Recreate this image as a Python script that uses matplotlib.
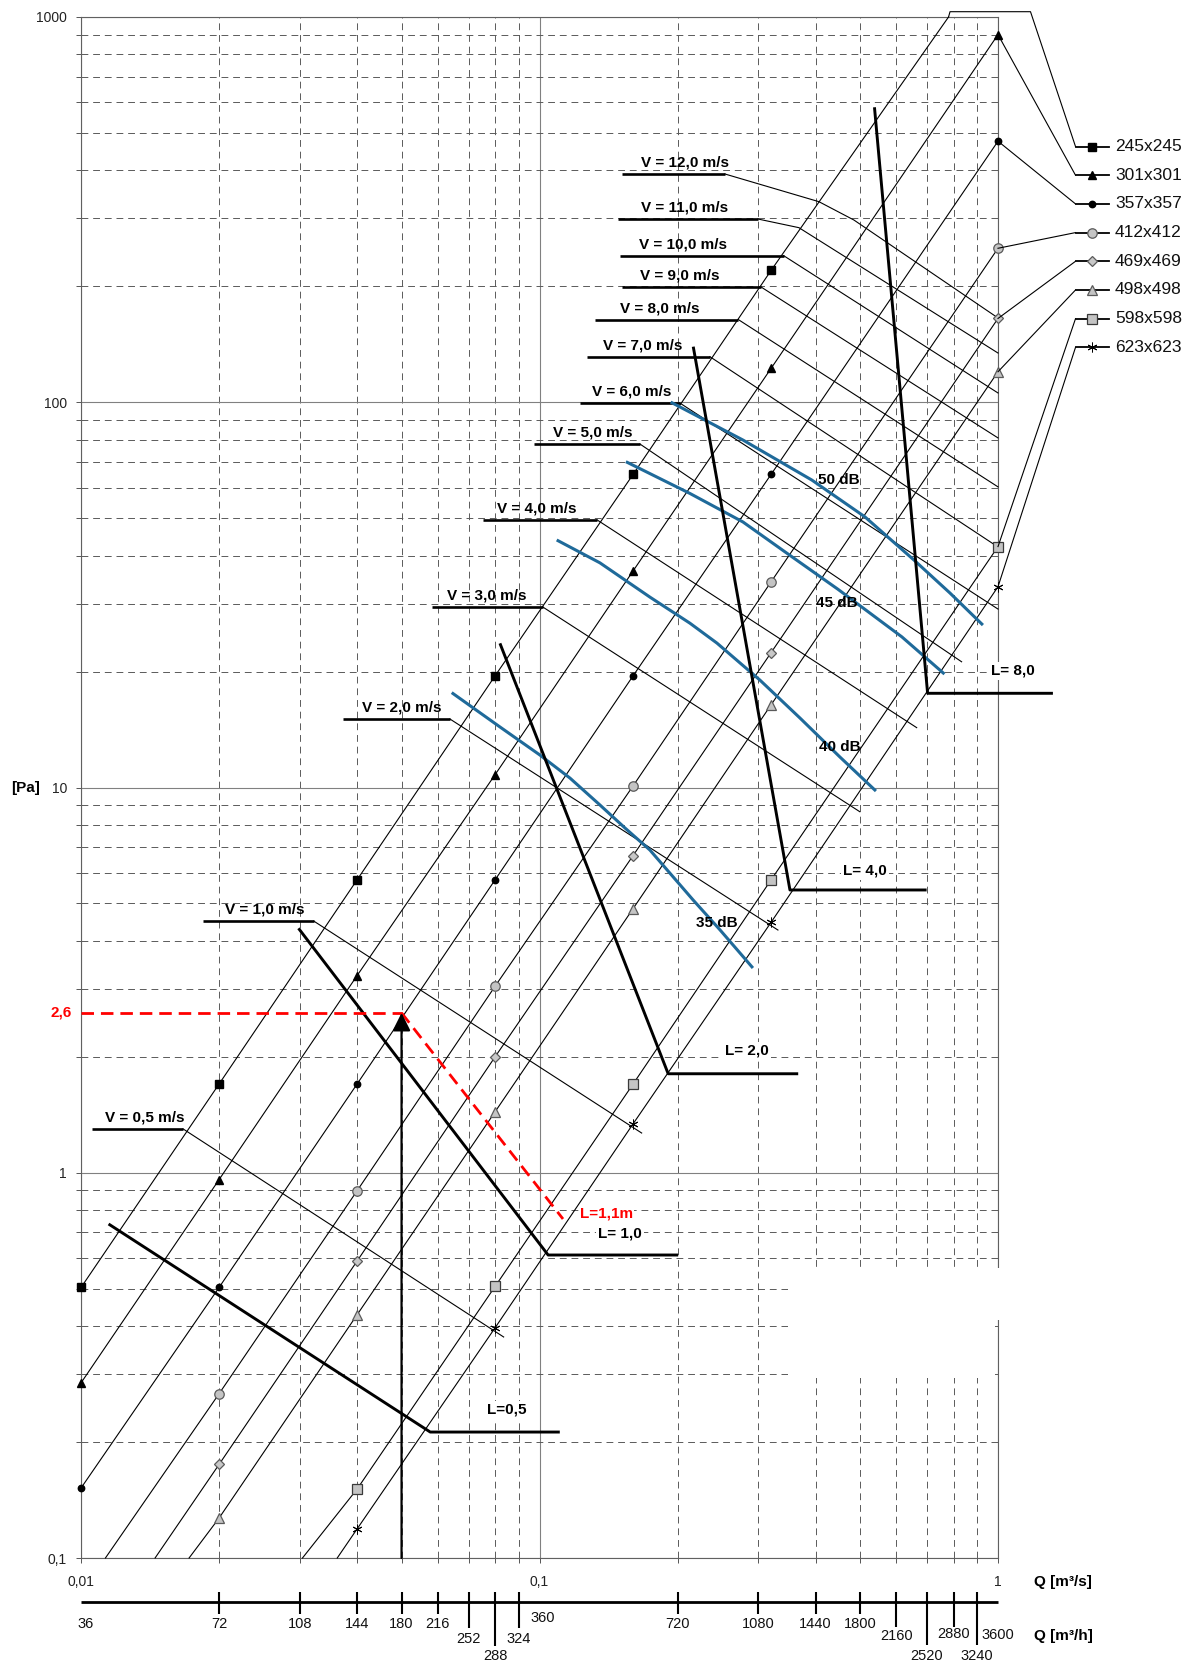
import numpy as np
import matplotlib
matplotlib.use("Agg")
import matplotlib.pyplot as plt
from matplotlib import font_manager
from matplotlib.font_manager import FontProperties
from matplotlib.patches import Rectangle
from matplotlib.transforms import blended_transform_factory, offset_copy
from matplotlib.ticker import FixedLocator, FixedFormatter, LogLocator, NullFormatter

plt.rcParams['font.family'] = ['Liberation Sans', 'DejaVu Sans']


def has_font(name):
    try:
        font_manager.findfont(FontProperties(family=name), fallback_to_default=False)
        return True
    except Exception:
        return False


NARROW_OK = has_font('Liberation Sans Narrow')
NARROW = ['Liberation Sans Narrow', 'Liberation Sans'] if NARROW_OK else ['Liberation Sans', 'DejaVu Sans']

# ---------------- data ----------------
# duct sizes and their pressure-loss lines (flow Q in m3/s, loss in Pa)
duct_sizes = ["245x245", "301x301", "357x357", "412x412",
              "469x469", "498x498", "598x598", "623x623"]
duct_q = [
    [0.01, 0.02, 0.04, 0.08, 0.16, 0.32, 0.78],
    [0.01, 0.02, 0.04, 0.08, 0.16, 0.32, 1.0],
    [0.01, 0.02, 0.04, 0.08, 0.16, 0.32, 1.0],
    [0.0113, 0.02, 0.04, 0.08, 0.16, 0.32, 1.0],
    [0.0145, 0.02, 0.04, 0.08, 0.16, 0.32, 1.0],
    [0.0172, 0.02, 0.04, 0.08, 0.16, 0.32, 1.0],
    [0.0304, 0.04, 0.08, 0.16, 0.32, 1.0],
    [0.0362, 0.04, 0.08, 0.16, 0.32, 1.0],
]
duct_p = [
    [0.504, 1.70, 5.76, 19.5, 65.0, 220.0, 1000.0],
    [0.285, 0.96, 3.25, 10.8, 36.5, 122.5, 900.0],
    [0.152, 0.504, 1.70, 5.76, 19.5, 65.0, 476.0],
    [0.1, 0.267, 0.898, 3.05, 10.1, 34.2, 251.0],
    [0.1, 0.175, 0.59, 2.0, 6.66, 22.4, 165.0],
    [0.1, 0.127, 0.428, 1.44, 4.85, 16.4, 120.0],
    [0.1, 0.151, 0.507, 1.70, 5.76, 42.2],
    [0.1, 0.119, 0.396, 1.34, 4.47, 33.2],
]
# index range of the vertices that carry a marker
duct_marked = [(0, 6), (0, 7), (0, 7), (1, 7), (1, 7), (1, 7), (1, 6), (1, 6)]

# constant air velocity lines: first segment is the label underline
vel_labels = ["V = 0,5 m/s", "V = 1,0 m/s", "V = 2,0 m/s", "V = 3,0 m/s",
              "V = 4,0 m/s", "V = 5,0 m/s", "V = 6,0 m/s", "V = 7,0 m/s",
              "V = 8,0 m/s", "V = 9,0 m/s", "V = 10,0 m/s", "V = 11,0 m/s",
              "V = 12,0 m/s"]
vel_q = [
    [0.01056, 0.01668, 0.0835],
    [0.01843, 0.03218, 0.1670],
    [0.03726, 0.06375, 0.3311],
    [0.05816, 0.1017, 0.4997],
    [0.07524, 0.1335, 0.6647],
    [0.0972, 0.1656, 0.8329],
    [0.1225, 0.2024, 1.0],
    [0.1267, 0.2353, 1.0],
    [0.1321, 0.2716, 1.0],
    [0.1511, 0.3041, 1.0],
    [0.1497, 0.3407, 1.0],
    [0.1483, 0.2994, 0.3679, 1.0],
    [0.1511, 0.2537, 0.4068, 0.4849, 1.0],
]
vel_p = [
    [1.30, 1.30, 0.3747],
    [4.50, 4.50, 1.268],
    [15.06, 15.06, 4.266],
    [29.4, 29.4, 8.65],
    [49.5, 49.5, 14.3],
    [77.9, 77.9, 21.2],
    [99.5, 99.5, 29.05],
    [131.3, 131.3, 42.1],
    [163.8, 163.8, 60.3],
    [199.2, 199.2, 80.8],
    [240.2, 240.2, 105.7],
    [299.0, 299.0, 283.9, 134.2],
    [391.3, 391.3, 331.6, 297.2, 165.5],
]

# sound power level curves
snd_labels = ["35 dB", "40 dB", "45 dB", "50 dB"]
snd_q = [
    [0.06433, 0.08196, 0.1002, 0.1165, 0.1354, 0.1536, 0.1741, 0.2161, 0.2475, 0.2920],
    [0.1090, 0.1354, 0.1741, 0.2128, 0.2438, 0.3025, 0.3698, 0.4520, 0.5417],
    [0.1543, 0.2128, 0.2777, 0.3430, 0.4476, 0.6171, 0.7642],
    [0.1932, 0.2777, 0.3927, 0.5126, 0.6556, 0.7855, 0.9270],
]
snd_p = [
    [17.63, 14.36, 12.14, 10.58, 9.01, 7.85, 6.88, 5.11, 4.27, 3.40],
    [43.9, 38.3, 31.2, 26.7, 23.7, 19.0, 15.15, 12.0, 9.79],
    [70.1, 57.98, 48.9, 40.9, 32.7, 24.6, 19.7],
    [100.1, 79.8, 62.8, 50.4, 38.95, 31.98, 26.4],
]

# duct length lines
len_labels = ["L=0,5", "L= 1,0", "L= 2,0", "L= 4,0", "L= 8,0"]
len_q = [
    [0.01148, 0.05775, 0.1107],
    [0.02980, 0.1044, 0.2006],
    [0.08196, 0.1908, 0.3666],
    [0.2164, 0.3517, 0.6987],
    [0.5377, 0.6202, 0.7022, 1.3176],
]
len_p = [
    [0.7362, 0.2123, 0.2123],
    [4.31, 0.6116, 0.6116],
    [23.67, 1.807, 1.807],
    [139.4, 5.42, 5.42],
    [583.0, 89.9, 17.56, 17.56],
]

# worked example: 180 m3/h, 2,6 Pa, L = 1,1 m
ex_flow = 0.05
ex_dp = 2.6
ex_q = [0.05, 0.1125]
ex_p = [2.6, 0.7586]

# secondary flow scale in m3/h
flow_m3h = [36, 72, 108, 144, 180, 216, 252, 288, 324, 360,
            720, 1080, 1440, 1800, 2160, 2520, 2880, 3240, 3600]

# ---------------- styles ----------------
marker_styles = [
    dict(marker='s', mfc='k', mec='k', ms=5.8),
    dict(marker='^', mfc='k', mec='k', ms=6.0),
    dict(marker='o', mfc='k', mec='k', ms=4.6),
    dict(marker='o', mfc='#c4c4c4', mec='#5a5a5a', ms=6.8, mew=0.9),
    dict(marker='D', mfc='#c8c8c8', mec='#5a5a5a', ms=5.0, mew=0.9),
    dict(marker='^', mfc='#c4c4c4', mec='#5a5a5a', ms=7.8, mew=0.9),
    dict(marker='s', mfc='#c4c4c4', mec='#3a3a3a', ms=6.8, mew=0.9),
    dict(marker=(6, 2, 0), mfc='k', mec='k', ms=7.0, mew=0.7),
]
BLUE = '#1f6a9a'

W, H = 1194, 1664
fig = plt.figure(figsize=(W / 100, H / 100), dpi=100)
X0, X1, Y0, Y1 = 81.1, 998.0, 17.0, 1558.0
ax = fig.add_axes([X0 / W, 1 - Y1 / H, (X1 - X0) / W, (Y1 - Y0) / H])
ax.set_xscale('log')
ax.set_yscale('log')
ax.set_xlim(0.01, 1)
ax.set_ylim(0.1, 1000)
ax.set_axisbelow(True)

ax.xaxis.set_major_locator(FixedLocator([0.01, 0.1, 1]))
ax.xaxis.set_major_formatter(FixedFormatter(['0,01', '0,1', '1']))
ax.xaxis.set_minor_locator(LogLocator(base=10, subs=np.arange(2, 10), numticks=50))
ax.xaxis.set_minor_formatter(NullFormatter())
ax.yaxis.set_major_locator(FixedLocator([0.1, 1, 10, 100, 1000]))
ax.yaxis.set_major_formatter(FixedFormatter(['0,1', '1', '10', '100', '1000']))
ax.yaxis.set_minor_locator(LogLocator(base=10, subs=np.arange(2, 10), numticks=50))
ax.yaxis.set_minor_formatter(NullFormatter())

ax.grid(which='major', color='#808080', lw=0.8, ls='-')
ax.grid(which='minor', color='#5a5a5a', lw=0.7, ls=(0, (7, 5)))
ax.tick_params(axis='both', which='both', direction='out', length=3.6, width=0.7,
               color='#555555', labelcolor='#222222', labelsize=10)
ax.tick_params(axis='x', which='both', pad=8.5)
ax.tick_params(axis='y', which='both', pad=6.5)
for s in ax.spines.values():
    s.set_color('#606060')
    s.set_linewidth(0.8)

# duct lines with markers
for i in range(len(duct_sizes)):
    ax.plot(duct_q[i], duct_p[i], color='k', lw=0.8, zorder=3, clip_on=False)
    a, b = duct_marked[i]
    ax.plot(duct_q[i][a:b], duct_p[i][a:b], ls='none', zorder=4, clip_on=False,
            **marker_styles[i])

# velocity lines; label anchors (flow value of the text centre)
vel_text_q = [0.01379, 0.0252, 0.0501, 0.0768, 0.0987, 0.1308, 0.1591,
              0.1681, 0.1830, 0.2024, 0.2055, 0.2075, 0.2075]
for lab, q, p, tq in zip(vel_labels, vel_q, vel_p, vel_text_q):
    ax.plot(q[:2], p[:2], color='k', lw=1.9, solid_capstyle='butt', zorder=3)
    ax.plot(q[1:], p[1:], color='k', lw=0.8, zorder=3, clip_on=False)
    ax.annotate(lab, xy=(tq, p[0]), xytext=(0, 3), textcoords='offset points',
                ha='center', va='bottom', fontsize=11, fontweight='bold', zorder=7)

# sound level curves
snd_text_xy = [(0.2434, 4.45), (0.4520, 12.76), (0.4446, 30.1), (0.449, 62.8)]
for lab, q, p, (tx, ty) in zip(snd_labels, snd_q, snd_p, snd_text_xy):
    ax.plot(q, p, color=BLUE, lw=2.2, zorder=4, solid_capstyle='butt')
    ax.text(tx, ty, lab, ha='center', va='center', fontsize=11, fontweight='bold', zorder=7)

# duct length lines
for q, p in zip(len_q, len_p):
    ax.plot(q, p, color='k', lw=2.1, zorder=5, clip_on=False, solid_capstyle='butt')
len_text_xy = [(0.0847, 0.2423), (0.1497, 0.6966), (0.2829, 2.074), (0.5126, 6.08), (1.0794, 20.1)]
for lab, (tx, ty) in zip(len_labels, len_text_xy):
    ax.text(tx, ty, lab, ha='center', va='center', fontsize=11, fontweight='bold', zorder=7,
            clip_on=False, bbox=dict(facecolor='white', edgecolor='none', pad=1.5))

# worked example
ax.plot([0.01, ex_flow], [ex_dp, ex_dp], color='red', lw=2.0, dashes=(4.5, 2.5), zorder=6)
ax.plot(ex_q, ex_p, color='red', lw=2.0, dashes=(4.5, 2.5), zorder=6)
ax.annotate('', xy=(ex_flow, ex_dp), xytext=(ex_flow, 0.1),
            arrowprops=dict(arrowstyle='-|>,head_length=0.54,head_width=0.27',
                            mutation_scale=20, color='k', lw=1.6, shrinkA=0, shrinkB=0),
            zorder=6)
ax.text(0.1401, 0.7848, "L=1,1m", color='red', ha='center', va='center', fontsize=11,
        fontweight='bold', zorder=8, bbox=dict(facecolor='white', edgecolor='none', pad=0.5))

# ---------------- overlay in pixel coordinates ----------------
ov = fig.add_axes([0, 0, 1, 1], facecolor='none')
ov.set_xlim(0, W)
ov.set_ylim(H, 0)
ov.set_autoscale_on(False)
ov.axis('off')


def to_px(q, p):
    x, y = ax.transData.transform((q, p))
    return x, H - y


# blank patch in the lower right part of the grid
ov.add_patch(Rectangle((788, 1268), 215, 52, facecolor='white', edgecolor='none', zorder=0.5))
ov.add_patch(Rectangle((788, 1320), 207, 58, facecolor='white', edgecolor='none', zorder=0.5))

# legend with leader lines from each duct line
leg_y = [146.5 + 28.7 * i for i in range(len(duct_sizes))]
for i, name in enumerate(duct_sizes):
    sx, sy = to_px(duct_q[i][-1], duct_p[i][-1])
    if i == 0:
        xs = [sx, sx + 1.5, 1030.5, 1075.5]
        ys = [sy, 11.7, 11.7, leg_y[i]]
    else:
        xs = [sx, 1075.5]
        ys = [sy, leg_y[i]]
    ov.plot(xs, ys, color='k', lw=0.8, clip_on=False)
    ov.plot([1075.5, 1108.8], [leg_y[i], leg_y[i]], color='k', lw=1.3, clip_on=False)
    ov.plot([1092], [leg_y[i]], ls='none', clip_on=False, **marker_styles[i])
    ov.text(1115, leg_y[i], name, ha='left', va='center', fontsize=12.5, color='#111111')

# secondary flow scale (m3/h)
bt = blended_transform_factory(ax.transData, ov.transData)
ov.plot([0.01, 1.0], [1602, 1602], transform=bt, color='k', lw=2.0,
        solid_capstyle='butt', clip_on=False)
tick_bottom = {252: 1628, 324: 1628, 2160: 1627, 2880: 1627,
               288: 1646, 2520: 1645, 3240: 1645}
label_y = {252: 1639, 324: 1639, 2160: 1636, 2880: 1634, 3600: 1635,
           288: 1656, 2520: 1656, 3240: 1656, 360: 1618}
label_dx = {36: 4, 360: 3}
no_tick = {36, 360, 3600}
fs_flow = 12.5 if NARROW_OK else 10.5
for v in flow_m3h:
    q = v / 3600.0
    if v not in no_tick:
        ov.plot([q, q], [1591.5, tick_bottom.get(v, 1614)], transform=bt, color='k',
                lw=1.5, solid_capstyle='butt', clip_on=False)
    tr = offset_copy(bt, fig=fig, x=label_dx.get(v, 0), y=0, units='dots')
    ov.text(q, label_y.get(v, 1624), str(v), transform=tr, ha='center', va='center',
            fontsize=fs_flow, family=NARROW, color='#111111', clip_on=False)

ov.text(1034, 1582, "Q [m³/s]", ha='left', va='center', fontsize=11, fontweight='bold')
ov.text(1034, 1636, "Q [m³/h]", ha='left', va='center', fontsize=11, fontweight='bold')
ov.text(40, 788, "[Pa]", ha='right', va='center', fontsize=11, fontweight='bold')
bt2 = blended_transform_factory(ov.transData, ax.transData)
ov.text(72, ex_dp, "2,6", transform=bt2, ha='right', va='center', fontsize=11,
        fontweight='bold', color='red')

fig.savefig("out.png", dpi=100)
